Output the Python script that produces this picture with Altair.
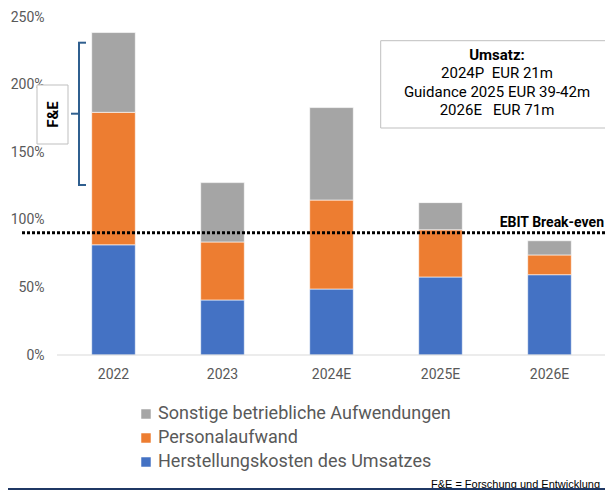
import altair as alt
import pandas as pd

years = ["2022", "2023", "2024E", "2025E", "2026E"]
herstellung = [81.5, 40.7, 48.8, 57.7, 59.4]
personal = [98.0, 42.9, 65.8, 34.9, 14.6]
sonstige = [59.0, 43.9, 68.4, 20.1, 10.5]
series_names = ["Sonstige betriebliche Aufwendungen", "Personalaufwand",
                "Herstellungskosten des Umsatzes"]
colors = ["#A5A5A5", "#ED7D31", "#4472C4"]
y_ticks = [0, 50, 100, 150, 200, 250]
break_even = 90.5
umsatz_title = "Umsatz:"
umsatz_lines = ["2024P\u00a0 EUR 21m", "Guidance 2025 EUR 39-42m", "2026E\u00a0\u00a0 EUR 71m"]
footnote = "F&E = Forschung und Entwicklung"

rows = []
for i, y in enumerate(years):
    rows.append({"year": y, "series": series_names[2], "value": herstellung[i], "ord": 0})
    rows.append({"year": y, "series": series_names[1], "value": personal[i], "ord": 1})
    rows.append({"year": y, "series": series_names[0], "value": sonstige[i], "ord": 2})
df = pd.DataFrame(rows)

GRAY = "#595959"
ONE = pd.DataFrame({"v": [0]})

bars = alt.Chart(df).mark_bar(stroke="white", strokeWidth=0.6).encode(
    x=alt.X("year:N", sort=years,
            scale=alt.Scale(paddingInner=0.6, paddingOuter=0.3),
            axis=alt.Axis(title=None, labelAngle=0, domain=False, ticks=False,
                          labelColor=GRAY, labelFontSize=14, labelPadding=12,
                          labelFont="Roboto")),
    y=alt.Y("value:Q", stack="zero",
            scale=alt.Scale(domain=[0, 250], nice=False),
            axis=alt.Axis(title=None, values=y_ticks, labelExpr="datum.value + '%'",
                          grid=False, domain=False, ticks=False, labelPadding=15,
                          labelColor=GRAY, labelFontSize=14, labelFont="Roboto")),
    color=alt.Color("series:N",
                    scale=alt.Scale(domain=series_names, range=colors),
                    legend=alt.Legend(orient="none", legendX=78, legendY=388,
                                      title=None, symbolType="square", symbolSize=90,
                                      symbolStrokeWidth=0, labelFontSize=18,
                                      labelColor=GRAY, labelFont="Roboto",
                                      labelLimit=0, rowPadding=6, labelOffset=3,
                                      padding=0)),
    order=alt.Order("ord:Q", sort="ascending"),
)

baseline = alt.Chart(ONE).mark_rule(color="#d9d9d9", strokeWidth=1).encode(
    y=alt.datum(0), x=alt.value(-2), x2=alt.value(560))

dotted = alt.Chart(pd.DataFrame({"v": [break_even]})).mark_rule(
    color="black", strokeWidth=3, strokeDash=[3, 2]).encode(
    y="v:Q", x=alt.value(-37), x2=alt.value(560))

ebit = alt.Chart(ONE).mark_text(
    text="EBIT Break-even", align="right", baseline="middle", fontSize=14,
    fontWeight="bold", font="Roboto", color="black").encode(
    x=alt.value(545), y=alt.value(205.7))

box = alt.Chart(ONE).mark_rect(fill="white", stroke="#bfbfbf", strokeWidth=1).encode(
    x=alt.value(321.7), x2=alt.value(570), y=alt.value(23.7), y2=alt.value(111))

umsatz_t = alt.Chart(ONE).mark_text(
    text=umsatz_title, align="center", baseline="middle", fontSize=15,
    fontWeight="bold", font="Roboto", color="black").encode(
    x=alt.value(438), y=alt.value(38))

line_y = [56, 75, 93]
umsatz_marks = [
    alt.Chart(ONE).mark_text(
        text=t, align="center", baseline="middle", fontSize=15,
        font="Roboto", color="black").encode(x=alt.value(438), y=alt.value(yy))
    for t, yy in zip(umsatz_lines, line_y)
]

fe_box = alt.Chart(ONE).mark_rect(fill="white", stroke="#bfbfbf", strokeWidth=1).encode(
    x=alt.value(-22), x2=alt.value(9), y=alt.value(68), y2=alt.value(127))

fe_text = alt.Chart(ONE).mark_text(
    text="F&E", angle=270, align="center", baseline="middle", fontSize=15,
    fontWeight="bold", font="Roboto", color="black").encode(
    x=alt.value(-6.5), y=alt.value(97.5))

BR = "#2F5F8F"
brace_v = alt.Chart(ONE).mark_rule(color=BR, strokeWidth=2).encode(
    x=alt.value(20), y=alt.value(25.7), y2=alt.value(168))
brace_t = alt.Chart(ONE).mark_rule(color=BR, strokeWidth=2).encode(
    x=alt.value(19), x2=alt.value(27), y=alt.value(25.7))
brace_b = alt.Chart(ONE).mark_rule(color=BR, strokeWidth=2).encode(
    x=alt.value(19), x2=alt.value(27), y=alt.value(168))
brace_m = alt.Chart(ONE).mark_rule(color=BR, strokeWidth=2).encode(
    x=alt.value(12), x2=alt.value(21), y=alt.value(96.7))

foot = alt.Chart(ONE).mark_text(
    text=footnote, align="right", baseline="alphabetic", fontSize=11,
    font="Liberation Sans", color="black").encode(
    x=alt.value(541), y=alt.value(471))

bottom_line = alt.Chart(ONE).mark_rule(color="#1F3864", strokeWidth=2).encode(
    x=alt.value(-51), x2=alt.value(560), y=alt.value(472))

chart = alt.layer(
    bars, baseline, dotted, ebit, box, umsatz_t, *umsatz_marks, fe_box, fe_text,
    brace_v, brace_t, brace_b, brace_m, foot, bottom_line
).properties(
    width=545, height=338,
    autosize=alt.AutoSizeParams(type="none"),
    padding={"left": 51, "top": 9, "right": 1, "bottom": 135},
).configure(font="Roboto").configure_view(stroke=None)

chart.save("out.html", embed_options={"renderer": "svg", "actions": False})
